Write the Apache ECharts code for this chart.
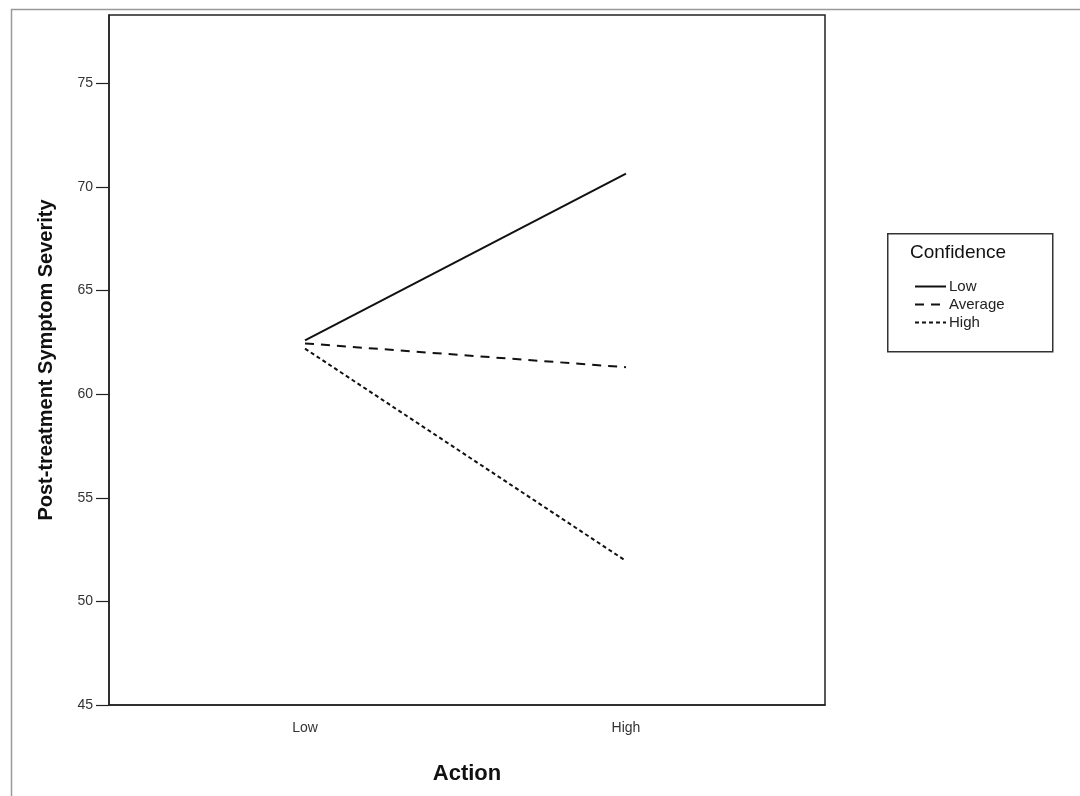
<!DOCTYPE html>
<html>
<head>
<meta charset="utf-8">
<script src="https://cdn.jsdelivr.net/npm/echarts@6/dist/echarts.min.js"></script>
<style>
  html, body { margin: 0; padding: 0; background: #fff; }
  #chart { width: 1080px; height: 796px; }
</style>
</head>
<body>
<div id="chart"></div>
<script>
// action levels (x positions 0 / 1)
const actionLabels = ['Low', 'High']
const actionPos = [0, 1]
// estimated marginal means per confidence level
const lowConf = [62.6, 70.65]
const avgConf = [62.45, 61.3]
const highConf = [62.2, 51.95]
const yTicks = [45, 50, 55, 60, 65, 70, 75]

const FONT = 'Liberation Sans, Arial, sans-serif'

function pts(vals) {
  return actionPos.map((x, i) => [x, vals[i]])
}

const chart = echarts.init(document.getElementById('chart'), null, { renderer: 'canvas' })

chart.setOption({
  backgroundColor: '#fff',
  animation: false,
  textStyle: { fontFamily: FONT },
  grid: {
    left: 109, right: 255, top: 15, bottom: 91,
    show: true, borderColor: '#222', borderWidth: 1.5, backgroundColor: '#fff',
  },
  xAxis: {
    type: 'value',
    min: -0.6106, max: 1.62,
    name: 'Action',
    nameLocation: 'middle',
    nameGap: 58,
    nameTextStyle: { fontSize: 22, fontWeight: 'bold', color: '#111', fontFamily: FONT },
    axisLine: { show: true, onZero: false, lineStyle: { color: '#222', width: 1.5 } },
    axisTick: { show: false },
    splitLine: { show: false },
    axisLabel: {
      customValues: actionPos,
      formatter: v => actionLabels[actionPos.indexOf(Math.round(v))] || '',
      fontSize: 14, color: '#333', margin: 16,
    },
  },
  yAxis: {
    type: 'value',
    min: 45, max: 78.3, interval: 5,
    name: 'Post-treatment Symptom Severity',
    nameLocation: 'middle',
    nameGap: 53,
    nameTextStyle: { fontSize: 20, fontWeight: 'bold', color: '#111', fontFamily: FONT },
    axisLine: { show: true, onZero: false, lineStyle: { color: '#222', width: 1.5 } },
    axisTick: { show: true, length: 13, lineStyle: { color: '#222', width: 1.2 }, customValues: yTicks },
    splitLine: { show: false },
    axisLabel: { customValues: yTicks, fontSize: 14, color: '#333', margin: 16 },
  },
  legend: {
    orient: 'vertical',
    left: 909, top: 274,
    itemWidth: 31, itemHeight: 14, itemGap: 3,
    itemStyle: { opacity: 0 },
    textStyle: { fontSize: 15, color: '#222', fontFamily: FONT, padding: [0, 0, 0, -2] },
    data: ['Low', 'Average', 'High'],
  },
  graphic: [
    { type: 'rect', left: 9, top: 7, shape: { width: 1200, height: 900 },
      style: { fill: 'none', stroke: '#999', lineWidth: 1.5 }, silent: true, z: -10 },
    { type: 'rect', left: 887, top: 233, shape: { width: 165, height: 118 },
      style: { fill: '#fff', stroke: '#333', lineWidth: 1.5 }, z: -5 },
    { type: 'text', left: 910, top: 243,
      style: { text: 'Confidence', fontSize: 19, fill: '#111', fontFamily: FONT }, z: 1 },
  ],
  series: [
    { name: 'Low', type: 'line', data: pts(lowConf), symbol: 'none',
      lineStyle: { color: '#111', width: 2, type: 'solid' }, itemStyle: { color: '#111' } },
    { name: 'Average', type: 'line', data: pts(avgConf), symbol: 'none',
      lineStyle: { color: '#111', width: 2, type: [9, 7] }, itemStyle: { color: '#111' } },
    { name: 'High', type: 'line', data: pts(highConf), symbol: 'none',
      lineStyle: { color: '#111', width: 2, type: [4, 3] }, itemStyle: { color: '#111' } },
  ],
})
</script>
</body>
</html>
